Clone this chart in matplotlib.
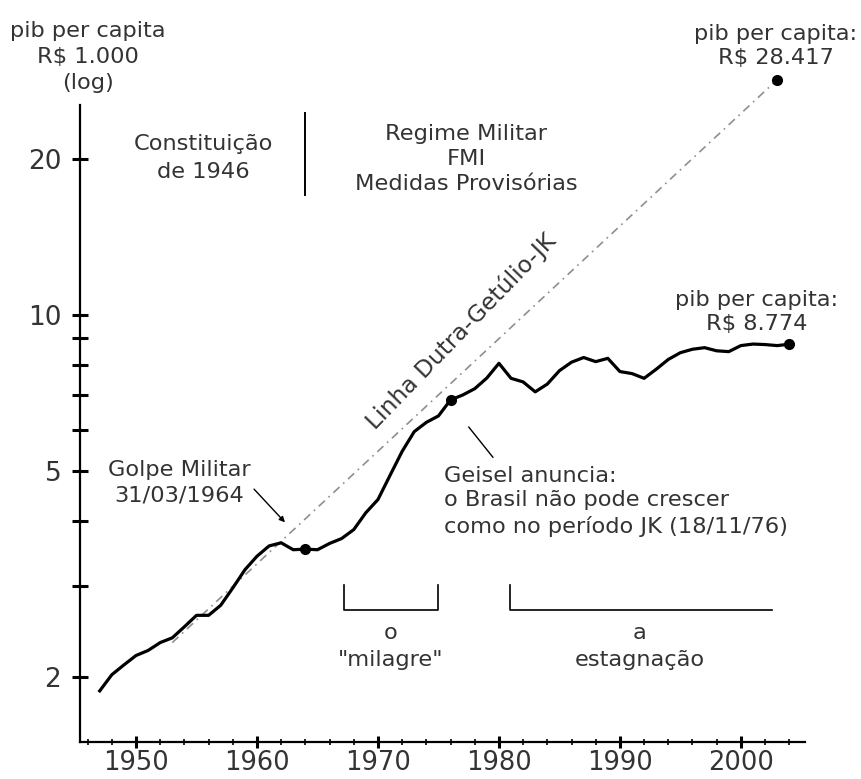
import matplotlib.pyplot as plt
from matplotlib.ticker import FixedLocator, NullFormatter, FixedFormatter

# Dados: pib per capita do Brasil (R$ 1.000, escala log)
anos = list(range(1947, 2005))
pib = [1.88, 2.02, 2.11, 2.20, 2.25, 2.33, 2.38, 2.50, 2.63, 2.63,   # 1947-1956
       2.75, 2.97, 3.22, 3.42, 3.58, 3.63, 3.52, 3.53, 3.52, 3.62,   # 1957-1966
       3.70, 3.85, 4.15, 4.40, 4.90, 5.45, 5.95, 6.20, 6.38, 6.85,   # 1967-1976
       7.00, 7.20, 7.55, 8.06, 7.54, 7.42, 7.10, 7.35, 7.80, 8.10,   # 1977-1986
       8.27, 8.12, 8.24, 7.77, 7.70, 7.54, 7.85, 8.20, 8.45, 8.58,   # 1987-1996
       8.64, 8.52, 8.49, 8.72, 8.78, 8.76, 8.72, 8.774]              # 1997-2004

# Linha Dutra-Getulio-JK (tendencia extrapolada)
tendencia_anos = [1953, 2003]
tendencia_pib = [2.33, 28.417]

# Pontos marcados
marcos_anos = [1964, 1976, 2004]
marcos_pib = [3.53, 6.85, 8.774]

# Periodos
milagre = [1967.2, 1974.95]
estagnacao = [1980.9, 2002.6]

anos_ticks = [1950, 1960, 1970, 1980, 1990, 2000]
anos_menores = list(range(1946, 2005, 2))
pib_ticks = [2, 5, 10, 20]
pib_menores = [3, 4, 6, 7, 8, 9]

fig = plt.figure(figsize=(8.61, 7.79), dpi=100)
ax = fig.add_axes([80 / 861, 37 / 779, 725 / 861, 637 / 779])

ax.set_yscale('log')
ax.set_xlim(1945.37, 2005.3)
ax.set_ylim(1.498, 25.4)

# Tendencia
ax.plot(tendencia_anos, tendencia_pib, color='#8f8f8f', linewidth=1.2,
        linestyle=(0, (5, 3, 1, 3)), clip_on=False)
ax.plot(tendencia_anos[-1], tendencia_pib[-1], 'o', color='black',
        markersize=7, clip_on=False)

# Curva principal
ax.plot(anos, pib, color='black', linewidth=2.3, solid_joinstyle='round')
ax.plot(marcos_anos, marcos_pib, 'o', color='black', markersize=7)

# Eixos
for lado in ['top', 'right']:
    ax.spines[lado].set_visible(False)
for lado in ['left', 'bottom']:
    ax.spines[lado].set_linewidth(1.6)

ax.yaxis.set_major_locator(FixedLocator(pib_ticks))
ax.yaxis.set_major_formatter(FixedFormatter([str(v) for v in pib_ticks]))
ax.yaxis.set_minor_locator(FixedLocator(pib_menores))
ax.yaxis.set_minor_formatter(NullFormatter())
ax.tick_params(axis='y', which='both', direction='inout', length=11,
               width=2.2, labelsize=19, pad=8, labelcolor='#333333')

ax.xaxis.set_major_locator(FixedLocator(anos_ticks))
ax.xaxis.set_minor_locator(FixedLocator(anos_menores))
ax.tick_params(axis='x', which='major', direction='inout', length=9,
               width=2.2, labelsize=18.5, pad=1, labelcolor='#333333')
ax.tick_params(axis='x', which='minor', direction='inout', length=4,
               width=1.2)

cor_txt = '#333333'
fs = 16.2

fig.text(88 / 861, 1 - 57 / 779, 'pib per capita\nR$ 1.000\n(log)',
         ha='center', va='center', fontsize=fs, color=cor_txt,
         linespacing=1.35)

ax.text(1955.6, 20.07, 'Constituição\nde 1946', ha='center', va='center',
        fontsize=fs, color=cor_txt, linespacing=1.45)
ax.plot([1964.0, 1964.0], [17.0, 24.5], color='black', linewidth=1.4)
ax.text(1977.27, 19.98, 'Regime Militar\nFMI\nMedidas Provisórias',
        ha='center', va='center', fontsize=fs, color=cor_txt, linespacing=1.3)

ax.text(1953.55, 4.74, 'Golpe Militar\n31/03/1964', ha='center', va='center',
        fontsize=fs, color=cor_txt, linespacing=1.4)
ax.annotate('', xy=(1962.47, 3.94), xytext=(1959.6, 4.65),
            arrowprops=dict(arrowstyle='-|>', color='black', lw=1.0,
                            mutation_scale=8))

ax.text(1975.45, 4.37, 'Geisel anuncia:\no Brasil não pode crescer\n'
        'como no período JK (18/11/76)', ha='left', va='center',
        fontsize=fs, color=cor_txt, linespacing=1.3)
ax.plot([1977.51, 1979.5], [6.07, 5.31], color='black', linewidth=1.0)

ax.text(2001.32, 10.12, 'pib per capita:\nR$ 8.774', ha='center',
        va='center', fontsize=fs, color=cor_txt, linespacing=1.2)
ax.text(2002.89, 33.0, 'pib per capita:\nR$ 28.417', ha='center',
        va='center', fontsize=fs, color=cor_txt, linespacing=1.3)

ax.text(1976.9, 9.3, 'Linha Dutra-Getúlio-JK', ha='center', va='center',
        rotation=46, fontsize=16.8, color=cor_txt)

# Colchetes dos periodos
ax.plot([milagre[0], milagre[0], milagre[1], milagre[1]],
        [3.01, 2.69, 2.69, 3.01], color='black', linewidth=1.2)
ax.plot([estagnacao[0], estagnacao[0], estagnacao[1]],
        [3.01, 2.69, 2.69], color='black', linewidth=1.2)
ax.text(sum(milagre) / 2, 2.29, 'o\n"milagre"', ha='center', va='center',
        fontsize=fs, color=cor_txt, linespacing=1.4)
ax.text(1991.65, 2.29, 'a\nestagnação', ha='center', va='center',
        fontsize=fs, color=cor_txt, linespacing=1.4)

fig.savefig('out.png', dpi=100)
